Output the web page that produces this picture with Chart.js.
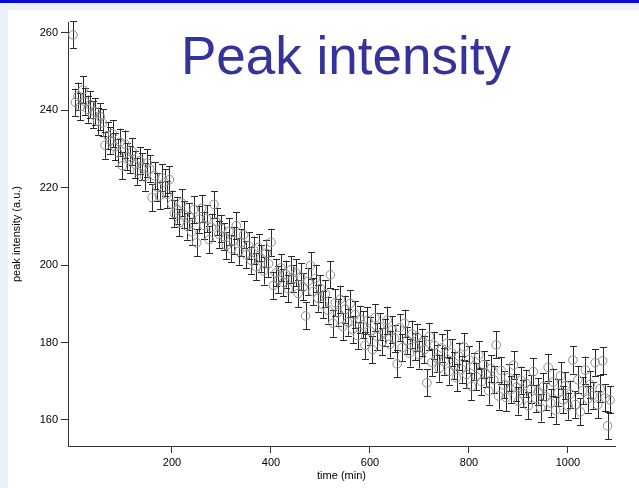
<!DOCTYPE html>
<html lang="en">
<head>
    <meta charset="UTF-8">
    <title>Peak intensity</title>
    <script src="https://cdn.jsdelivr.net/npm/chart.js"></script>
    <style>
        body {
            margin: 0;
            padding: 0;
            width: 639px;
            height: 488px;
            overflow: hidden;
            background: #eaf2f9;
            font-family: 'Liberation Sans', Arial, sans-serif;
        }

        .topline {
            position: absolute;
            left: 0; top: 0;
            width: 639px; height: 3px;
            background: #0a0ae0;
        }

        .panel {
            position: absolute;
            left: 8px; top: 10px;
            width: 631px; height: 478px;
            background: #fff;
        }

        .chart-box {
            position: absolute;
            left: 0; top: 0;
            width: 639px; height: 488px;
        }

        .big-title {
            position: absolute;
            left: 181px;
            top: 29px;
            font-size: 53px;
            line-height: 53px;
            color: #333399;
            white-space: nowrap;
        }
    </style>
</head>
<body>
    <div class="topline"></div>
    <div class="panel"></div>
    <div class="chart-box">
        <canvas id="peakChart" width="639" height="488"></canvas>
    </div>
    <div class="big-title">Peak intensity</div>

    <script>
        // sampling every 5 min, 0 .. 1085
        const times = [];
        for (let t = 0; t <= 1085; t += 5) times.push(t);

        const intensity = [
            259.5, 242.1, 243.7, 241.0, 245.3, 242.2, 240.3, 241.5, 238.9, 239.6,
            237.2, 238.4, 236.8, 231.0, 233.5, 232.2, 234.0, 230.6, 229.1, 231.8,
            225.7, 231.3, 228.0, 227.2, 229.4, 226.1, 224.3, 227.0, 225.5, 222.8,
            226.4, 224.9, 217.5, 223.1, 220.2, 217.9, 222.6, 221.4, 218.3, 222.1,
            215.8, 213.4, 214.2, 211.0, 216.1, 213.0, 210.1, 212.5, 208.6, 214.4,
            205.8, 211.9, 214.7, 210.3, 212.0, 206.6, 209.8, 215.7, 211.2, 208.0,
            209.5, 207.4, 205.1, 208.7, 204.2, 206.3, 210.2, 203.6, 205.8, 207.9,
            202.7, 205.0, 201.3, 203.9, 199.6, 204.6, 201.8, 198.5, 203.1, 200.4,
            205.9, 194.8, 198.0, 196.2, 199.3, 195.5, 197.7, 193.9, 198.8, 196.5,
            198.1, 192.7, 197.0, 194.4, 186.9, 195.8, 199.9, 193.2, 196.6, 191.5,
            194.0, 189.8, 192.6, 188.4, 197.5, 185.0, 190.3, 187.7, 191.2, 184.2,
            188.6, 185.3, 190.1, 183.4, 187.2, 181.8, 186.0, 184.6, 179.3, 185.7,
            183.0, 178.2, 186.4, 181.5, 184.1, 180.2, 182.7, 185.8, 179.6, 183.3,
            181.0, 174.5, 183.9, 178.7, 185.0, 180.6, 177.3, 182.2, 179.0, 181.4,
            176.8, 180.1, 178.2, 169.6, 181.6, 174.9, 179.3, 176.0, 173.4, 178.6,
            175.2, 179.8, 172.6, 177.4, 174.0, 170.9, 176.5, 173.1, 178.9, 171.8,
            175.6, 168.7, 173.9, 171.2, 176.8, 169.9, 174.3, 172.0, 167.5, 173.3,
            170.4, 179.4, 166.2, 172.8, 169.1, 165.8, 171.0, 167.9, 174.2, 168.4,
            164.9, 170.3, 166.8, 169.5, 163.7, 168.0, 172.5, 165.6, 167.3, 163.1,
            168.6, 166.0, 173.6, 164.4, 169.8, 162.5, 167.1, 171.4, 165.2, 168.9,
            163.6, 166.7, 175.5, 164.0, 170.4, 162.1, 167.6, 172.9, 165.4, 169.2,
            166.3, 174.8, 163.9, 168.1, 175.3, 165.7, 158.5, 165.2
        ];

        const errHalf = 3.5;   // +/- error, a.u.

        const xTicks = [200, 400, 600, 800, 1000];
        const yTicks = [160, 180, 200, 220, 240, 260];

        const points = times.map((t, i) => ({ x: t, y: intensity[i] }));

        // vertical error bars with caps, drawn through the chart scales
        const errorBars = {
            id: 'errorBars',
            beforeDatasetsDraw(chart) {
                const ctx = chart.ctx;
                const xs = chart.scales.x;
                const ys = chart.scales.y;
                ctx.save();
                ctx.strokeStyle = '#2a2a2a';
                ctx.lineWidth = 1;
                points.forEach(p => {
                    const px = Math.round(xs.getPixelForValue(p.x)) + 0.5;
                    const top = ys.getPixelForValue(p.y + errHalf);
                    const bot = ys.getPixelForValue(p.y - errHalf);
                    ctx.beginPath();
                    ctx.moveTo(px, top);
                    ctx.lineTo(px, bot);
                    ctx.moveTo(px - 3.5, Math.round(top) + 0.5);
                    ctx.lineTo(px + 3.5, Math.round(top) + 0.5);
                    ctx.moveTo(px - 3.5, Math.round(bot) + 0.5);
                    ctx.lineTo(px + 3.5, Math.round(bot) + 0.5);
                    ctx.stroke();
                });
                ctx.restore();
            }
        };

        const tickFont = { family: "'Liberation Sans', Arial, sans-serif", size: 11 };

        new Chart(document.getElementById('peakChart'), {
            type: 'scatter',
            data: {
                datasets: [{
                    label: 'peak intensity',
                    data: points,
                    pointStyle: 'circle',
                    pointRadius: 4.3,
                    borderWidth: 1,
                    borderColor: '#8c8c8c',
                    backgroundColor: 'rgba(0,0,0,0)'
                }]
            },
            options: {
                responsive: false,
                animation: false,
                layout: { padding: { top: 22, right: 24, left: 0, bottom: 0 } },
                plugins: {
                    legend: { display: false },
                    tooltip: { enabled: false }
                },
                scales: {
                    x: {
                        type: 'linear',
                        min: -10,
                        max: 1095,
                        afterBuildTicks: s => { s.ticks = xTicks.map(v => ({ value: v })); },
                        afterFit: s => { s.height = 42; },
                        ticks: {
                            color: '#000', font: tickFont, padding: 3, maxRotation: 0,
                            callback: v => String(v)
                        },
                        grid: { drawOnChartArea: false, tickLength: 7, tickColor: '#333', color: '#333' },
                        border: { color: '#333', width: 1 },
                        title: {
                            display: true,
                            text: 'time (min)',
                            color: '#000',
                            font: tickFont,
                            padding: { top: 0, bottom: 5 }
                        }
                    },
                    y: {
                        min: 153.28,
                        max: 262.84,
                        afterBuildTicks: s => { s.ticks = yTicks.map(v => ({ value: v })); },
                        afterFit: s => { s.width = 68; },
                        ticks: { color: '#000', font: tickFont, padding: 3, callback: v => String(v) },
                        grid: { drawOnChartArea: false, tickLength: 7, tickColor: '#333', color: '#333' },
                        border: { color: '#333', width: 1 },
                        title: {
                            display: true,
                            text: 'peak intensity (a.u.)',
                            color: '#000',
                            font: tickFont,
                            padding: { top: 10, bottom: 0 }
                        }
                    }
                }
            },
            plugins: [errorBars]
        });
    </script>
</body>
</html>
